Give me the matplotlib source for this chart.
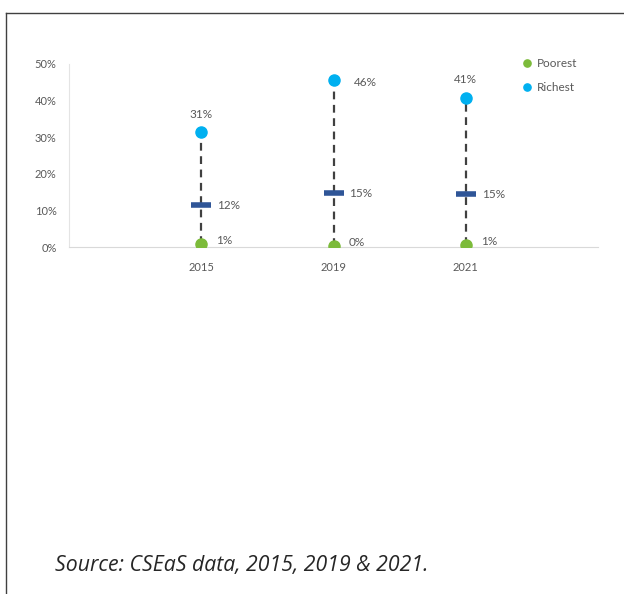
import matplotlib.pyplot as plt
from matplotlib.lines import Line2D

years = ['2015', '2019', '2021']
x_pos = [1, 2, 3]
poorest = [0.9, 0.3, 0.6]
richest = [31.3, 45.6, 40.8]
average = [11.6, 14.8, 14.6]

# label offsets (pixels) for the richest labels: above or to the right
rich_offsets = [(0, 18), (20, -2), (0, 18)]

plt.rcParams['font.family'] = ['Lato', 'DejaVu Sans']
grey = '#595959'

fig = plt.figure(figsize=(6.24, 5.94), dpi=100)
ax = fig.add_axes([69 / 624, 1 - 247 / 594, 529 / 624, 183 / 594])

# dashed range lines
for x, lo, hi in zip(x_pos, poorest, richest):
    ax.plot([x, x], [lo, hi], color='#404040', lw=1.6, ls=(0, (3.5, 2.5)), zorder=1)

ax.plot(x_pos, average, ls='none', marker='_', ms=14, mew=4, color='#2F5597', zorder=3)
ax.plot(x_pos, poorest, ls='none', marker='o', ms=8, color='#7CBB3A', zorder=4, label='Poorest')
ax.plot(x_pos, richest, ls='none', marker='o', ms=8, color='#00B0F0', zorder=4, label='Richest')

for x, v, off in zip(x_pos, richest, rich_offsets):
    ha = 'center' if off[0] == 0 else 'left'
    ax.annotate(f'{v:.0f}%', (x, v), xytext=off, textcoords='offset pixels',
                ha=ha, va='center', fontsize=8.5, color=grey)
for x, v in zip(x_pos, average):
    ax.annotate(f'{v:.0f}%', (x, v), xytext=(16, -1), textcoords='offset pixels',
                ha='left', va='center', fontsize=8.5, color=grey)
for x, v in zip(x_pos, poorest):
    ax.annotate(f'{v:.0f}%', (x, v), xytext=(15, 3), textcoords='offset pixels',
                ha='left', va='center', fontsize=8.5, color=grey)

ax.set_xlim(0, 4)
ax.set_ylim(0, 50)
ax.set_xticks(x_pos)
ax.set_xticklabels(years)
ax.set_yticks(range(0, 51, 10))
ax.set_yticklabels([f'{t}%' for t in range(0, 51, 10)])
ax.tick_params(length=0, labelsize=8, colors=grey)
ax.tick_params(axis='x', pad=11)
ax.tick_params(axis='y', pad=9)
for side in ['top', 'right']:
    ax.spines[side].set_visible(False)
ax.spines['bottom'].set_color('#D9D9D9')
ax.spines['left'].set_color('#E4E4E4')
ax.spines['left'].set_linewidth(0.8)

leg = ax.legend(loc='upper left', bbox_to_anchor=(0.837, 1.09), frameon=False,
                fontsize=8.5, handlelength=0.7, handletextpad=0.5, labelspacing=1.1,
                markerscale=0.65)
for t in leg.get_texts():
    t.set_color(grey)

# outer frame (left and top edges)
fig.add_artist(Line2D([6 / 624, 6 / 624], [0, 1 - 13 / 594], color='#404040', lw=1))
fig.add_artist(Line2D([6 / 624, 1], [1 - 13 / 594, 1 - 13 / 594], color='#404040', lw=1))

fig.text(55 / 624, 1 - 565 / 594, 'Source: CSEaS data, 2015, 2019 & 2021.',
         family='Open Sans', style='italic', fontsize=15.3, color='#262626',
         ha='left', va='center')

fig.savefig('out.png', dpi=100)
